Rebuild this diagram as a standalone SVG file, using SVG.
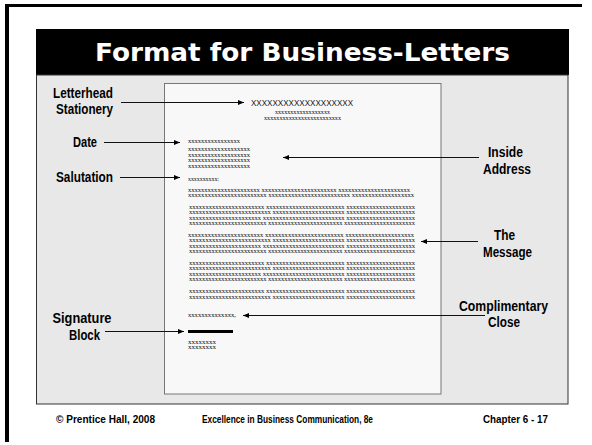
<svg xmlns="http://www.w3.org/2000/svg" width="592" height="445" viewBox="0 0 592 445">
<defs>
<style>
.lbl{font-family:"Liberation Sans Narrow","Liberation Sans",Arial,sans-serif;font-weight:bold;font-size:14px;fill:#000;text-anchor:middle}
.ft{font-family:"Liberation Sans",Arial,sans-serif;font-weight:bold;font-size:10px;fill:#000}
.sx{font-family:"Liberation Serif","Times New Roman",serif;font-size:6.5px;fill:#111}
.tx{font-family:"Liberation Serif","Times New Roman",serif;font-size:5.5px;fill:#111}
.conn{stroke:#111;stroke-width:1;fill:none;marker-end:url(#ah)}
</style>
<marker id="ah" markerUnits="userSpaceOnUse" markerWidth="6" markerHeight="6" refX="6" refY="3" orient="auto">
<path d="M0,0.5 L6,3 L0,5.5 z" fill="#000"/>
</marker>
</defs>
<rect x="0" y="0" width="592" height="445" fill="#fff"/>
<!-- outer frame -->
<rect x="5" y="4" width="577" height="3" fill="#000"/>
<rect x="5" y="4" width="4" height="438" fill="#000"/>
<!-- title bar -->
<rect x="36" y="29" width="533" height="46" fill="#000"/>
<text x="302.5" y="61" font-family="'DejaVu Sans',Verdana,sans-serif" font-weight="bold" font-size="25" fill="#fff" text-anchor="middle" textLength="415" lengthAdjust="spacingAndGlyphs">Format for Business-Letters</text>
<!-- panel -->
<rect x="36.5" y="75" width="531.5" height="329" fill="#e8e8e8" stroke="#333" stroke-width="1"/>
<!-- letter page -->
<g id="page">
<rect x="164.5" y="83.5" width="276.5" height="310.5" fill="#f8f8f8" stroke="#777" stroke-width="1"/>
<text x="251" y="105.5" font-family="'Liberation Sans',Arial,sans-serif" font-size="9" fill="#222" textLength="102" lengthAdjust="spacingAndGlyphs">XXXXXXXXXXXXXXXXXXX</text>
<text class="tx" x="275" y="113.5" textLength="55" lengthAdjust="spacingAndGlyphs">xxxxxxxxxxxxxxxxxx</text>
<text class="tx" x="264" y="120" textLength="77" lengthAdjust="spacingAndGlyphs">xxxxxxxxxxxxxxxxxxxxxxxxx</text>
<!-- date -->
<text class="sx" x="188" y="143" textLength="52" lengthAdjust="spacingAndGlyphs">xxxxxxxxxxxxxxxx</text>
<!-- inside address -->
<text class="sx" x="188" y="151" textLength="62" lengthAdjust="spacingAndGlyphs">xxxxxxxxxxxxxxxxxxx</text>
<text class="sx" x="188" y="156.5" textLength="62" lengthAdjust="spacingAndGlyphs">xxxxxxxxxxxxxxxxxxx</text>
<text class="sx" x="188" y="162" textLength="62" lengthAdjust="spacingAndGlyphs">xxxxxxxxxxxxxxxxxxx</text>
<text class="sx" x="188" y="167.5" textLength="62" lengthAdjust="spacingAndGlyphs">xxxxxxxxxxxxxxxxxxx</text>
<!-- salutation -->
<text class="sx" x="188" y="180.5" textLength="31" lengthAdjust="spacingAndGlyphs">xxxxxxxxxx:</text>
<!-- body -->
<g class="sx">
<text x="188" y="191.5" textLength="222" lengthAdjust="spacingAndGlyphs">xxxxxxxxxxxxxxxxxxxxxx xxxxxxxxxxxxxxxxxxxxxxx xxxxxxxxxxxxxxxxxxxxxx</text>
<text x="188" y="197" textLength="226" lengthAdjust="spacingAndGlyphs">xxxxxxxxxxxxxxxxxxxxxxxx xxxxxxxxxxxxxxxxxxxxxxxxx xxxxxxxxxxxxxxxxxxx</text>
<text x="189" y="208.5" textLength="226" lengthAdjust="spacingAndGlyphs">xxxxxxxxxxxxxxxxxxxxxxx xxxxxxxxxxxxxxxxxxxxxxxx xxxxxxxxxxxxxxxxxxxxx</text>
<text x="189" y="214" textLength="226" lengthAdjust="spacingAndGlyphs">xxxxxxxxxxxxxxxxxxxxxxxxx xxxxxxxxxxxxxxxxxxxxxx xxxxxxxxxxxxxxxxxxxxx</text>
<text x="189" y="219.5" textLength="226" lengthAdjust="spacingAndGlyphs">xxxxxxxxxxxxxxxxxxxxxx xxxxxxxxxxxxxxxxxxxxxxxxx xxxxxxxxxxxxxxxxxxxxx</text>
<text x="189" y="225" textLength="226" lengthAdjust="spacingAndGlyphs">xxxxxxxxxxxxxxxxxxxxxxxx xxxxxxxxxxxxxxxxxxxxxxx xxxxxxxxxxxxxxxxxxxxxx</text>
<text x="188" y="236.5" textLength="226" lengthAdjust="spacingAndGlyphs">xxxxxxxxxxxxxxxxxxxxxxx xxxxxxxxxxxxxxxxxxxxxxxx xxxxxxxxxxxxxxxxxxxxx</text>
<text x="189" y="242" textLength="226" lengthAdjust="spacingAndGlyphs">xxxxxxxxxxxxxxxxxxxxxxxxx xxxxxxxxxxxxxxxxxxxxxx xxxxxxxxxxxxxxxxxxxxx</text>
<text x="189" y="247.5" textLength="226" lengthAdjust="spacingAndGlyphs">xxxxxxxxxxxxxxxxxxxxxx xxxxxxxxxxxxxxxxxxxxxxxxx xxxxxxxxxxxxxxxxxxxxx</text>
<text x="189" y="253" textLength="226" lengthAdjust="spacingAndGlyphs">xxxxxxxxxxxxxxxxxxxxxxxx xxxxxxxxxxxxxxxxxxxxxxx xxxxxxxxxxxxxxxxxxxxxx</text>
<text x="189" y="264.5" textLength="226" lengthAdjust="spacingAndGlyphs">xxxxxxxxxxxxxxxxxxxxxxx xxxxxxxxxxxxxxxxxxxxxxxx xxxxxxxxxxxxxxxxxxxxx</text>
<text x="189" y="270" textLength="226" lengthAdjust="spacingAndGlyphs">xxxxxxxxxxxxxxxxxxxxxxxxx xxxxxxxxxxxxxxxxxxxxxx xxxxxxxxxxxxxxxxxxxxx</text>
<text x="189" y="275.5" textLength="226" lengthAdjust="spacingAndGlyphs">xxxxxxxxxxxxxxxxxxxxxx xxxxxxxxxxxxxxxxxxxxxxxxx xxxxxxxxxxxxxxxxxxxxx</text>
<text x="189" y="281" textLength="226" lengthAdjust="spacingAndGlyphs">xxxxxxxxxxxxxxxxxxxxxxxx xxxxxxxxxxxxxxxxxxxxxxx xxxxxxxxxxxxxxxxxxxxxx</text>
<text x="189" y="293" textLength="226" lengthAdjust="spacingAndGlyphs">xxxxxxxxxxxxxxxxxxxxxxx xxxxxxxxxxxxxxxxxxxxxxxx xxxxxxxxxxxxxxxxxxxxx</text>
<text x="189" y="298.5" textLength="226" lengthAdjust="spacingAndGlyphs">xxxxxxxxxxxxxxxxxxxxxxxxx xxxxxxxxxxxxxxxxxxxxxx xxxxxxxxxxxxxxxxxxxxx</text>
</g>
<!-- complimentary close -->
<text class="sx" x="188" y="317" textLength="48" lengthAdjust="spacingAndGlyphs">xxxxxxxxxxxxxx,</text>
<!-- signature -->
<rect x="188" y="330" width="45" height="3" fill="#000"/>
<text class="sx" x="188" y="343.5" textLength="28" lengthAdjust="spacingAndGlyphs">xxxxxxxx</text>
<text class="sx" x="188" y="349" textLength="28" lengthAdjust="spacingAndGlyphs">xxxxxxxx</text>
</g>
<!-- labels -->
<g id="letterhead"><text class="lbl" x="83" y="98" textLength="60" lengthAdjust="spacingAndGlyphs">Letterhead</text><text class="lbl" x="84.5" y="114" textLength="57" lengthAdjust="spacingAndGlyphs">Stationery</text></g>
<g id="date"><text class="lbl" x="85" y="146.5" textLength="24" lengthAdjust="spacingAndGlyphs">Date</text></g>
<g id="salutation"><text class="lbl" x="84.5" y="181.5" textLength="57" lengthAdjust="spacingAndGlyphs">Salutation</text></g>
<g id="signature"><text class="lbl" x="82" y="323" textLength="59" lengthAdjust="spacingAndGlyphs">Signature</text><text class="lbl" x="84.5" y="340" textLength="31" lengthAdjust="spacingAndGlyphs">Block</text></g>
<g id="inside"><text class="lbl" x="505.5" y="157" textLength="35" lengthAdjust="spacingAndGlyphs">Inside</text><text class="lbl" x="507" y="173.5" textLength="48" lengthAdjust="spacingAndGlyphs">Address</text></g>
<g id="message"><text class="lbl" x="504.5" y="240" textLength="21" lengthAdjust="spacingAndGlyphs">The</text><text class="lbl" x="507.5" y="256.5" textLength="49" lengthAdjust="spacingAndGlyphs">Message</text></g>
<g id="close"><text class="lbl" x="503.5" y="310.5" textLength="89" lengthAdjust="spacingAndGlyphs">Complimentary</text><text class="lbl" x="504" y="326.5" textLength="32" lengthAdjust="spacingAndGlyphs">Close</text></g>
<!-- connectors -->
<g id="connectors">
<line class="conn" x1="121" y1="102.5" x2="244" y2="102.5"/>
<line class="conn" x1="104" y1="142.5" x2="180" y2="142.5"/>
<line class="conn" x1="120" y1="177.5" x2="180" y2="177.5"/>
<line class="conn" x1="479" y1="157.5" x2="283" y2="157.5"/>
<line class="conn" x1="478" y1="241.5" x2="421" y2="241.5"/>
<line class="conn" x1="485" y1="315.5" x2="243" y2="315.5"/>
<line class="conn" x1="105" y1="331.5" x2="184" y2="331.5"/>
</g>
<!-- footer -->
<text class="ft" x="56" y="423" textLength="99" lengthAdjust="spacingAndGlyphs">© Prentice Hall, 2008</text>
<text class="ft" x="202" y="423" textLength="171" lengthAdjust="spacingAndGlyphs">Excellence in Business Communication, 8e</text>
<text class="ft" x="483" y="423" textLength="65" lengthAdjust="spacingAndGlyphs">Chapter 6 - 17</text>
</svg>
